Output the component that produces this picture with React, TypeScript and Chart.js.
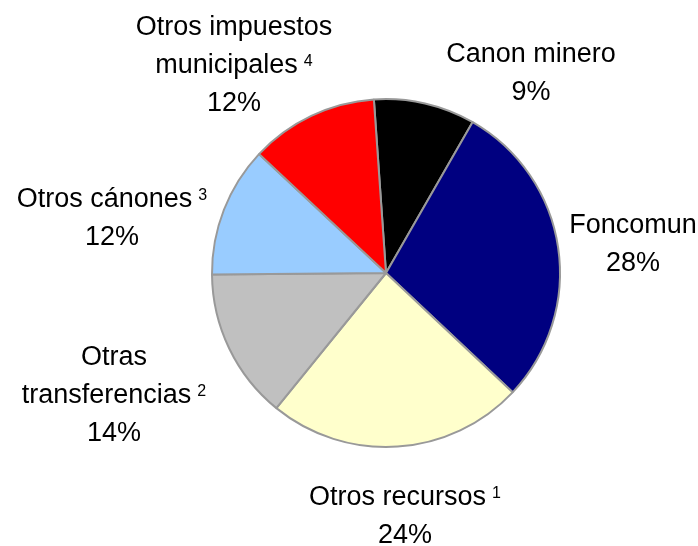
import React, { useEffect, useRef } from "react";
import { Chart, registerables } from "chart.js";

Chart.register(...registerables);

const categories = [
  "Canon minero",
  "Foncomun",
  "Otros recursos",
  "Otras transferencias",
  "Otros cánones",
  "Otros impuestos municipales",
];
const shares = [9.4, 28.7, 23.8, 14.0, 12.1, 11.9];
const percentLabels = ["9%", "28%", "24%", "14%", "12%", "12%"];
// label text lines, with optional superscript on the last name line
const labelLines = [
  ["Canon minero"],
  ["Foncomun"],
  ["Otros recursos"],
  ["Otras", "transferencias"],
  ["Otros cánones"],
  ["Otros impuestos", "municipales"],
];
const footnotes = ["", "", "1", "2", "3", "4"];

const sliceColors = ["#000000", "#000080", "#FFFFCC", "#C0C0C0", "#99CCFF", "#FF0000"];

// label anchor offsets relative to pie centre (px): centre x, first baseline
const labelOffsets = [
  [145, -211],
  [247, -40],
  [19, 232],
  [-272, 92],
  [-274, -66],
  [-152, -238],
];

const FONT = '"Liberation Sans", Arial, sans-serif';
const FONT_SIZE = 27;
const SUP_SIZE = 16;
const LINE_H = 38;

const labelPlugin = {
  id: "outerLabels",
  afterDatasetsDraw(chart: any) {
    const ctx = chart.ctx as CanvasRenderingContext2D;
    const meta = chart.getDatasetMeta(0);
    const arc0 = meta.data[0];
    const cx = arc0.x;
    const cy = arc0.y;
    ctx.save();
    ctx.fillStyle = "#000000";
    ctx.textBaseline = "alphabetic";
    ctx.textAlign = "left";
    labelLines.forEach((lines, i) => {
      const [dx, dy] = labelOffsets[i];
      const x = cx + dx;
      let y = cy + dy;
      const all = [...lines, percentLabels[i]];
      all.forEach((line, li) => {
        const isLastName = li === lines.length - 1;
        const sup = isLastName ? footnotes[i] : "";
        ctx.font = `${FONT_SIZE}px ${FONT}`;
        const w = ctx.measureText(line).width;
        let supW = 0;
        const gap = sup ? 6 : 0;
        if (sup) {
          ctx.font = `${SUP_SIZE}px ${FONT}`;
          supW = ctx.measureText(sup).width;
        }
        const total = w + gap + supW;
        const start = x - total / 2;
        ctx.font = `${FONT_SIZE}px ${FONT}`;
        ctx.fillText(line, start, y);
        if (sup) {
          ctx.font = `${SUP_SIZE}px ${FONT}`;
          ctx.fillText(sup, start + w + gap, y - 7);
        }
        y += LINE_H;
      });
    });
    ctx.restore();
  },
};

export default function App() {
  const ref = useRef<HTMLCanvasElement | null>(null);
  useEffect(() => {
    if (!ref.current) return;
    const chart = new Chart(ref.current, {
      type: "pie",
      data: {
        labels: categories,
        datasets: [
          {
            data: shares,
            backgroundColor: sliceColors,
            borderColor: "#999999",
            borderWidth: 2,
            hoverOffset: 0,
          },
        ],
      },
      options: {
        responsive: false,
        animation: false,
        rotation: -4,
        layout: { padding: { top: 98, bottom: 98, left: 211, right: 137 } },
        plugins: {
          legend: { display: false },
          tooltip: { enabled: false },
        },
      },
      plugins: [labelPlugin],
    });
    return () => chart.destroy();
  }, []);
  return (
    <div style={{ position: "absolute", left: 0, top: 0, width: 698, height: 546, background: "#fff" }}>
      <canvas ref={ref} width={698} height={546} />
    </div>
  );
}
